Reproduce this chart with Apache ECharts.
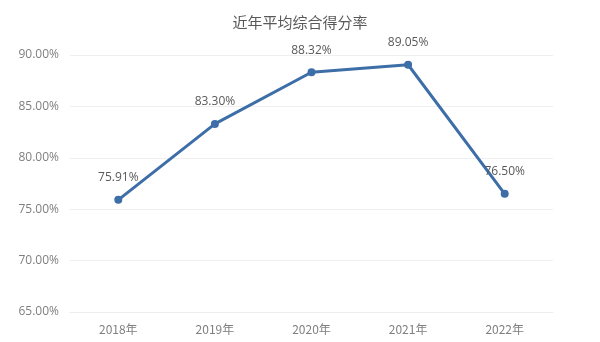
<!DOCTYPE html>
<html><head><meta charset="utf-8">
<script src="https://cdn.jsdelivr.net/npm/echarts@6/dist/echarts.min.js"></script>
<style>html,body{margin:0;padding:0;background:#fff}#c{width:600px;height:342px}</style>
</head><body><div id="c"></div>
<script>
var titleText = '近年平均综合得分率';
var categories = ['2018年', '2019年', '2020年', '2021年', '2022年'];
var values = [75.91, 83.30, 88.32, 89.05, 76.50];
var yMin = 65, yMax = 90, yStep = 5;

var chart = echarts.init(document.getElementById('c'));
chart.setOption({
  animation: false,
  backgroundColor: '#ffffff',
  title: {
    text: titleText, left: 'center', top: 10,
    textStyle: { fontFamily: 'Noto Sans CJK SC', fontSize: 15, fontWeight: 'normal', color: '#595959' }
  },
  grid: { left: 70, right: 47, top: 55, bottom: 30 },
  xAxis: {
    type: 'category', data: categories, boundaryGap: true,
    axisLine: { show: true, lineStyle: { color: '#eeeeee' } },
    axisTick: { show: false },
    axisLabel: { color: '#7f7f7f', fontSize: 12, margin: 11, fontFamily: 'Noto Sans CJK SC' }
  },
  yAxis: {
    type: 'value', min: yMin, max: yMax, interval: yStep,
    axisLine: { show: false }, axisTick: { show: false },
    axisLabel: { color: '#7f7f7f', fontSize: 12, margin: 11, fontFamily: 'Open Sans',
      formatter: function (v) { return v.toFixed(2) + '%'; } },
    splitLine: { lineStyle: { color: '#efefef' } }
  },
  series: [{
    type: 'line', data: values,
    symbol: 'circle', symbolSize: 8,
    lineStyle: { color: '#3d6ea8', width: 3 },
    itemStyle: { color: '#3d6ea8' },
    label: { show: true, position: 'top', distance: 12, color: '#595959', fontSize: 12, fontFamily: 'Open Sans',
      formatter: function (p) { return p.value.toFixed(2) + '%'; } }
  }]
});
</script></body></html>
